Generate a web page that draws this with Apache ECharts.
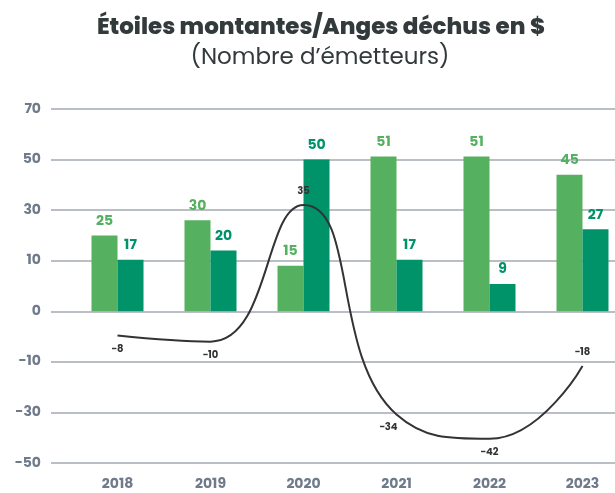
<!DOCTYPE html>
<html>
<head>
<meta charset="utf-8">
<script src="https://cdn.jsdelivr.net/npm/echarts@6/dist/echarts.min.js"></script>
<style>
  html, body { margin: 0; padding: 0; background: #fff; }
  #chart { width: 615px; height: 493px; }
</style>
</head>
<body>
<div id="chart"></div>
<script>
// data
const years = ['2018', '2019', '2020', '2021', '2022', '2023'];
const risingStars = [25, 30, 15, 51, 51, 45];   // étoiles montantes
const fallenAngels = [17, 20, 50, 17, 9, 27];   // anges déchus
const netCount = [-8, -10, 35, -34, -42, -18];
// the original axis labels (not evenly spaced in value)
const yTickLabels = ['-50', '-30', '-10', '0', '10', '30', '50', '70'];

const yMin = -50;
const yStep = 50 / 3;
const yMax = yMin + yStep * 7;

const lineLabelPos = ['bottom', 'bottom', 'top', 'bottom', 'bottom', 'top'];
const lineLabelShift = [0, 0, 0, -8, 0, 0];

const font = 'Poppins, Inter, "Open Sans", sans-serif';
const lightGreen = '#55b160';
const darkGreen = '#00936a';
const axisGrey = '#6f7a8b';

const chart = echarts.init(document.getElementById('chart'));

let option = {
  animation: false,
  title: [
    {
      text: 'Étoiles montantes/Anges déchus en $',
      left: 316,
      textAlign: 'center',
      top: 12,
      textStyle: { fontFamily: font, fontWeight: 800, fontSize: 23, color: '#333a3b' }
    },
    {
      text: '(Nombre d’émetteurs)',
      left: 315,
      textAlign: 'center',
      top: 42,
      textStyle: { fontFamily: font, fontWeight: 'normal', fontSize: 23, color: '#333a3b' }
    }
  ],
  grid: [
    // grid for y labels and gridlines
    { left: 51, right: 0, top: 109, height: 354, outerBoundsMode: 'none' },
    // grid for the series (wider than the window on the right)
    { left: 71, width: 558, top: 109, height: 354, outerBoundsMode: 'none' }
  ],
  xAxis: [
    { gridIndex: 0, type: 'category', data: years, show: false },
    {
      gridIndex: 1,
      type: 'category',
      data: years,
      axisLine: { show: false },
      axisTick: { show: false },
      axisLabel: {
        margin: 14,
        fontFamily: font,
        fontWeight: 'bold',
        fontSize: 14,
        color: axisGrey
      }
    }
  ],
  yAxis: [
    {
      gridIndex: 0,
      type: 'value',
      min: yMin,
      max: yMax,
      interval: yStep,
      axisLine: { show: false },
      axisTick: { show: false },
      splitLine: { lineStyle: { color: '#a3a8b2', width: 1.5 } },
      axisLabel: {
        margin: 10,
        fontFamily: font,
        fontWeight: 'bold',
        fontSize: 14,
        color: axisGrey,
        formatter: function (v) {
          let i = Math.round((v - yMin) / yStep);
          return yTickLabels[i] !== undefined ? yTickLabels[i] : '';
        }
      }
    },
    {
      gridIndex: 1,
      type: 'value',
      min: yMin,
      max: yMax,
      interval: yStep,
      show: false,
      splitLine: { show: false }
    }
  ],
  series: [
    {
      name: 'Étoiles montantes',
      type: 'bar',
      xAxisIndex: 1,
      yAxisIndex: 1,
      data: risingStars,
      barWidth: 26,
      barGap: '0%',
      itemStyle: { color: lightGreen },
      label: {
        show: true,
        position: 'top',
        distance: 7,
        fontFamily: font,
        fontWeight: 'bold',
        fontSize: 14,
        color: lightGreen
      }
    },
    {
      name: 'Anges déchus',
      type: 'bar',
      xAxisIndex: 1,
      yAxisIndex: 1,
      data: fallenAngels,
      barWidth: 26,
      barGap: '0%',
      itemStyle: { color: darkGreen },
      label: {
        show: true,
        position: 'top',
        distance: 7,
        fontFamily: font,
        fontWeight: 'bold',
        fontSize: 14,
        color: darkGreen
      }
    },
    {
      name: 'Net',
      type: 'line',
      xAxisIndex: 1,
      yAxisIndex: 1,
      smooth: 0.5,
      symbol: 'circle',
      symbolSize: 1,
      showSymbol: true,
      itemStyle: { color: 'rgba(0,0,0,0)' },
      z: 5,
      lineStyle: { color: '#333333', width: 2 },
      data: netCount.map((v, i) => ({
        value: v,
        label: { show: true, position: lineLabelPos[i], offset: [lineLabelShift[i], 0] }
      })),
      label: {
        show: true,
        distance: 8,
        fontFamily: font,
        fontWeight: 'bold',
        fontSize: 10,
        color: '#333333',
        formatter: p => String(p.value).replace('-', '−')
      }
    }
  ]
};

chart.setOption(option);
</script>
</body>
</html>
